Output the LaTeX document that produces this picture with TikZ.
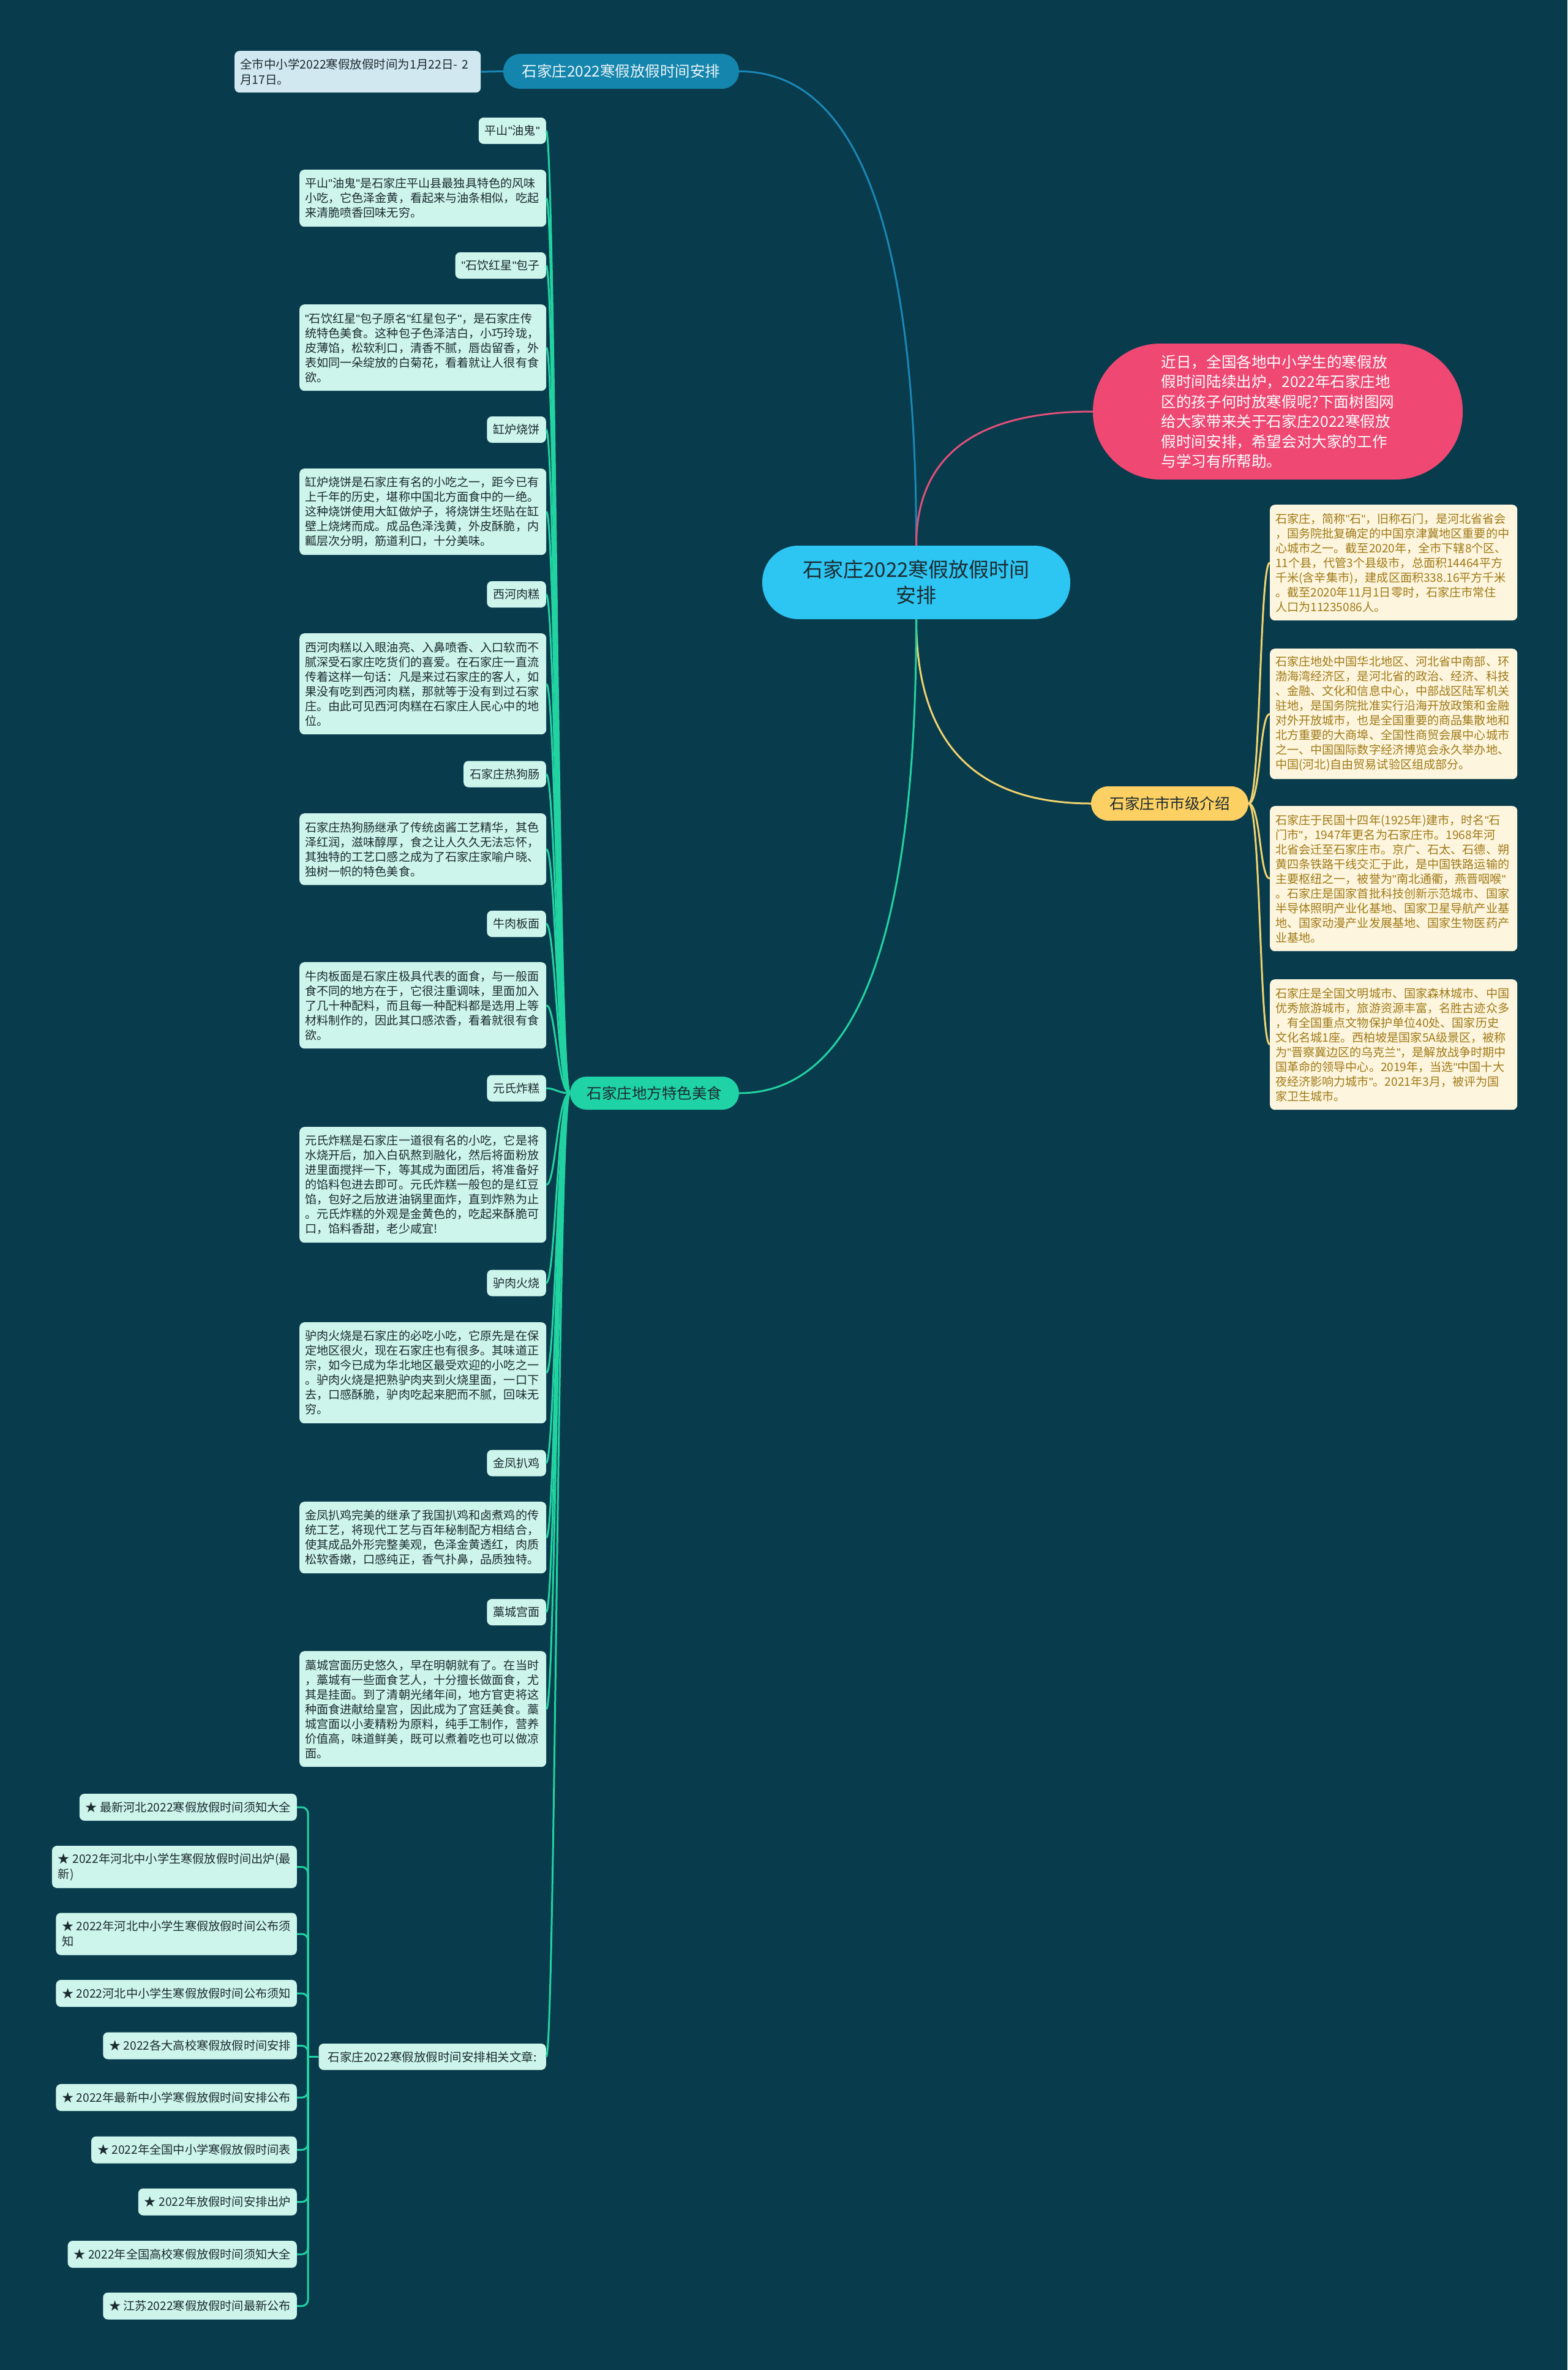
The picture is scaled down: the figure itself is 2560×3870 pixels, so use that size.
\documentclass[tikz,border=0pt]{standalone}
\usepackage{fontspec}
\setmainfont{Noto Sans CJK SC}
\newfontfamily\qfont{Liberation Sans}
\newcommand\qq{{\qfont"}}
\usetikzlibrary{calc}
\definecolor{bg}{HTML}{083B4C}
\definecolor{mint}{HTML}{CDF5EC}
\definecolor{dtext}{HTML}{1C2B30}
\definecolor{cream}{HTML}{FDF5DD}
\definecolor{gold}{HTML}{A07A18}
\definecolor{lblue}{HTML}{D2E8F0}
\definecolor{tealb}{HTML}{1485AD}
\definecolor{cyanr}{HTML}{2DC5F2}
\definecolor{pinkn}{HTML}{EE4873}
\definecolor{yeln}{HTML}{FCD062}
\definecolor{grnn}{HTML}{1FD3A6}
\definecolor{gline}{HTML}{22D3A2}
\definecolor{yline}{HTML}{F1D36E}
\definecolor{bline}{HTML}{1B87B5}
\definecolor{pline}{HTML}{E0507A}
\newcommand\myfs[2]{\fontsize{#1pt}{#2pt}\selectfont}
\begin{document}
\begin{tikzpicture}[x=1pt,y=-1pt,
  box/.style={draw=none, rounded corners=8pt, inner ysep=4pt},
  desc/.style={box, fill=mint, text=dtext, font=\myfs{19.1}{24}, text width=385pt, inner xsep=9pt, align=left, anchor=north west},
  lab/.style={box, fill=mint, text=dtext, font=\myfs{19.1}{24}, anchor=east, minimum height=43pt, inner xsep=10pt},
  ylf/.style={box, fill=cream, text=gold, font=\myfs{19.1}{24}, text width=386pt, inner xsep=9pt, align=left, anchor=north west},
  rch/.style={box, fill=mint, text=dtext, font=\myfs{19.2}{25}, anchor=east, align=left, inner xsep=10pt, minimum height=44pt},
  gconn/.style={draw=gline, line width=3pt},
  yconn/.style={draw=yline, line width=3pt},
]
\path[fill=bg] (0,0) rectangle (2560,3870);

% ---------- main nodes ----------
\node[box, fill=cyanr, text=dtext, rounded corners=59pt, minimum width=503pt, minimum height=120pt,
  font=\myfs{33}{42}, align=center] (root) at (1496.5,951) {石家庄2022寒假放假时间\\安排};
\node[box, fill=pinkn, text=white, rounded corners=110pt, minimum width=604pt, minimum height=222pt,
  font=\myfs{24.6}{32.4}, align=left] (pink) at (2087,672) {近日，全国各地中小学生的寒假放\\假时间陆续出炉，2022年石家庄地\\区的孩子何时放寒假呢?下面树图网\\给大家带来关于石家庄2022寒假放\\假时间安排，希望会对大家的工作\\与学习有所帮助。};
\node[box, fill=tealb, text=white!92!tealb, rounded corners=28pt, minimum width=385pt, minimum height=57pt,
  font=\myfs{24.5}{30}] (topb) at (1014.5,116.5) {石家庄2022寒假放假时间安排};
\node[box, fill=lblue, text=dtext, font=\myfs{19.5}{25}, text width=384pt, inner xsep=9pt, align=left,
  anchor=north west, minimum height=68pt] (topleaf) at (383,83) {全市中小学2022寒假放假时间为1月22日-~2\\月17日。};
\node[box, fill=yeln, text=dtext, rounded corners=28pt, minimum width=257pt, minimum height=56pt,
  font=\myfs{24.5}{30}] (yel) at (1910.5,1312) {石家庄市市级介绍};
\node[box, fill=grnn, text=dtext, rounded corners=27pt, minimum width=276pt, minimum height=54pt,
  font=\myfs{24.5}{30}] (grn) at (1069,1785) {石家庄地方特色美食};

% ---------- top-level connectors ----------
\draw[draw=bline, line width=3pt] (root.north) .. controls ($(root.north)!0.667!(root.north |- topb.east)$) and ($(topb.east)!0.667!(root.north |- topb.east)$) .. (topb.east);
\draw[draw=pline, line width=3pt] (root.north) .. controls ($(root.north)!0.667!(root.north |- pink.west)$) and ($(pink.west)!0.667!(root.north |- pink.west)$) .. (pink.west);
\draw[yconn] (root.south) .. controls ($(root.south)!0.667!(root.south |- yel.west)$) and ($(yel.west)!0.667!(root.south |- yel.west)$) .. (yel.west);
\draw[gconn] (root.south) .. controls ($(root.south)!0.667!(root.south |- grn.east)$) and ($(grn.east)!0.667!(root.south |- grn.east)$) .. (grn.east);
\draw[draw=bline, line width=3pt] (topleaf.east) -- (topb.west);

% ---------- yellow leaves ----------
\node[ylf, minimum height=189pt] (y1) at (2074,824) {石家庄，简称\qq{}石\qq{}，旧称石门，是河北省省会\\，国务院批复确定的中国京津冀地区重要的中\\心城市之一。截至2020年，全市下辖8个区、\\11个县，代管3个县级市，总面积14464平方\\千米(含辛集市)，建成区面积338.16平方千米\\。截至2020年11月1日零时，石家庄市常住\\人口为11235086人。};
\node[ylf, minimum height=213pt] (y2) at (2074,1059) {石家庄地处中国华北地区、河北省中南部、环\\渤海湾经济区，是河北省的政治、经济、科技\\、金融、文化和信息中心，中部战区陆军机关\\驻地，是国务院批准实行沿海开放政策和金融\\对外开放城市，也是全国重要的商品集散地和\\北方重要的大商埠、全国性商贸会展中心城市\\之一、中国国际数字经济博览会永久举办地、\\中国(河北)自由贸易试验区组成部分。};
\node[ylf, minimum height=237pt] (y3) at (2074,1316) {石家庄于民国十四年(1925年)建市，时名\qq{}石\\门市\qq{}，1947年更名为石家庄市。1968年河\\北省会迁至石家庄市。京广、石太、石德、朔\\黄四条铁路干线交汇于此，是中国铁路运输的\\主要枢纽之一，被誉为\qq{}南北通衢，燕晋咽喉\qq{}\\。石家庄是国家首批科技创新示范城市、国家\\半导体照明产业化基地、国家卫星导航产业基\\地、国家动漫产业发展基地、国家生物医药产\\业基地。};
\node[ylf, minimum height=213pt] (y4) at (2074,1599) {石家庄是全国文明城市、国家森林城市、中国\\优秀旅游城市，旅游资源丰富，名胜古迹众多\\，有全国重点文物保护单位40处、国家历史\\文化名城1座。西柏坡是国家5A级景区，被称\\为\qq{}晋察冀边区的乌克兰\qq{}，是解放战争时期中\\国革命的领导中心。2019年，当选\qq{}中国十大\\夜经济影响力城市\qq{}。2021年3月，被评为国\\家卫生城市。};
\foreach \n in {y1,y2,y3,y4}
  \draw[yconn] (yel.east) .. controls ($(yel.east)+(20,0)$) and ($(\n.west)+(-17,0)$) .. (\n.west);

% ---------- food branch ----------
\node[lab] (l1) at (892,213.5) {平山\qq{}油鬼\qq{}};
\node[desc, minimum height=93pt] (d1) at (489,277) {平山\qq{}油鬼\qq{}是石家庄平山县最独具特色的风味\\小吃，它色泽金黄，看起来与油条相似，吃起\\来清脆喷香回味无穷。};
\node[lab] (l2) at (892,433.5) {\qq{}石饮红星\qq{}包子};
\node[desc, minimum height=141pt] (d2) at (489,497) {\qq{}石饮红星\qq{}包子原名\qq{}红星包子\qq{}，是石家庄传\\统特色美食。这种包子色泽洁白，小巧玲珑，\\皮薄馅，松软利口，清香不腻，唇齿留香，外\\表如同一朵绽放的白菊花，看着就让人很有食\\欲。};
\node[lab] (l3) at (892,701.5) {缸炉烧饼};
\node[desc, minimum height=141pt] (d3) at (489,765) {缸炉烧饼是石家庄有名的小吃之一，距今已有\\上千年的历史，堪称中国北方面食中的一绝。\\这种烧饼使用大缸做炉子，将烧饼生坯贴在缸\\壁上烧烤而成。成品色泽浅黄，外皮酥脆，内\\瓤层次分明，筋道利口，十分美味。};
\node[lab] (l4) at (892,970.5) {西河肉糕};
\node[desc, minimum height=165pt] (d4) at (489,1034) {西河肉糕以入眼油亮、入鼻喷香、入口软而不\\腻深受石家庄吃货们的喜爱。在石家庄一直流\\传着这样一句话：凡是来过石家庄的客人，如\\果没有吃到西河肉糕，那就等于没有到过石家\\庄。由此可见西河肉糕在石家庄人民心中的地\\位。};
\node[lab] (l5) at (892,1264) {石家庄热狗肠};
\node[desc, minimum height=117pt] (d5) at (489,1328) {石家庄热狗肠继承了传统卤酱工艺精华，其色\\泽红润，滋味醇厚，食之让人久久无法忘怀，\\其独特的工艺口感之成为了石家庄家喻户晓、\\独树一帜的特色美食。};
\node[lab] (l6) at (892,1508.5) {牛肉板面};
\node[desc, minimum height=141pt] (d6) at (489,1571) {牛肉板面是石家庄极具代表的面食，与一般面\\食不同的地方在于，它很注重调味，里面加入\\了几十种配料，而且每一种配料都是选用上等\\材料制作的，因此其口感浓香，看着就很有食\\欲。};
\node[lab] (l7) at (892,1777) {元氏炸糕};
\node[desc, minimum height=189pt] (d7) at (489,1840) {元氏炸糕是石家庄一道很有名的小吃，它是将\\水烧开后，加入白矾熬到融化，然后将面粉放\\进里面搅拌一下，等其成为面团后，将准备好\\的馅料包进去即可。元氏炸糕一般包的是红豆\\馅，包好之后放进油锅里面炸，直到炸熟为止\\。元氏炸糕的外观是金黄色的，吃起来酥脆可\\口，馅料香甜，老少咸宜!};
\node[lab] (l8) at (892,2095) {驴肉火烧};
\node[desc, minimum height=165pt] (d8) at (489,2159) {驴肉火烧是石家庄的必吃小吃，它原先是在保\\定地区很火，现在石家庄也有很多。其味道正\\宗，如今已成为华北地区最受欢迎的小吃之一\\。驴肉火烧是把熟驴肉夹到火烧里面，一口下\\去，口感酥脆，驴肉吃起来肥而不腻，回味无\\穷。};
\node[lab] (l9) at (892,2389) {金凤扒鸡};
\node[desc, minimum height=117pt] (d9) at (489,2452) {金凤扒鸡完美的继承了我国扒鸡和卤煮鸡的传\\统工艺，将现代工艺与百年秘制配方相结合，\\使其成品外形完整美观，色泽金黄透红，肉质\\松软香嫩，口感纯正，香气扑鼻，品质独特。};
\node[lab] (l10) at (892,2632.5) {藁城宫面};
\node[desc, minimum height=189pt] (d10) at (489,2696) {藁城宫面历史悠久，早在明朝就有了。在当时\\，藁城有一些面食艺人，十分擅长做面食，尤\\其是挂面。到了清朝光绪年间，地方官吏将这\\种面食进献给皇宫，因此成为了宫廷美食。藁\\城宫面以小麦精粉为原料，纯手工制作，营养\\价值高，味道鲜美，既可以煮着吃也可以做凉\\面。};
\node[box, fill=mint, text=dtext, font=\myfs{19.5}{25}, anchor=east, inner xsep=15pt, minimum height=43pt] (rel) at (892,3358.5) {石家庄2022寒假放假时间安排相关文章:};

\foreach \n in {l1,d1,l2,d2,l3,d3,l4,d4,l5,d5,l6,d6,l7,d7,l8,d8,l9,d9,l10,d10,rel}
  \draw[gconn] (grn.west) .. controls ($(grn.west)+(-20,0)$) and ($(\n.east)+(15,0)$) .. (\n.east);

% ---------- related articles ----------
\node[rch] (r1) at (485,2951) {★~最新河北2022寒假放假时间须知大全};
\node[rch, minimum height=69pt] (r2) at (485,3048.5) {★~2022年河北中小学生寒假放假时间出炉(最\\新)};
\node[rch, minimum height=69pt] (r3) at (485,3158) {★~2022年河北中小学生寒假放假时间公布须\\知};
\node[rch] (r4) at (485,3255) {★~2022河北中小学生寒假放假时间公布须知};
\node[rch] (r5) at (485,3340.5) {★~2022各大高校寒假放假时间安排};
\node[rch] (r6) at (485,3425) {★~2022年最新中小学寒假放假时间安排公布};
\node[rch] (r7) at (485,3510.5) {★~2022年全国中小学寒假放假时间表};
\node[rch] (r8) at (485,3595.5) {★~2022年放假时间安排出炉};
\node[rch] (r9) at (485,3681) {★~2022年全国高校寒假放假时间须知大全};
\node[rch] (r10) at (485,3765.5) {★~江苏2022寒假放假时间最新公布};
\coordinate (rj) at (503,3358.5);
\draw[gconn] (rel.west) -- (rj);
\foreach \n in {r1,r2,r3,r4,r5,r6,r7,r8,r9,r10}
  \draw[gconn, rounded corners=10pt] (rj) |- (\n.east);
\end{tikzpicture}
\end{document}
